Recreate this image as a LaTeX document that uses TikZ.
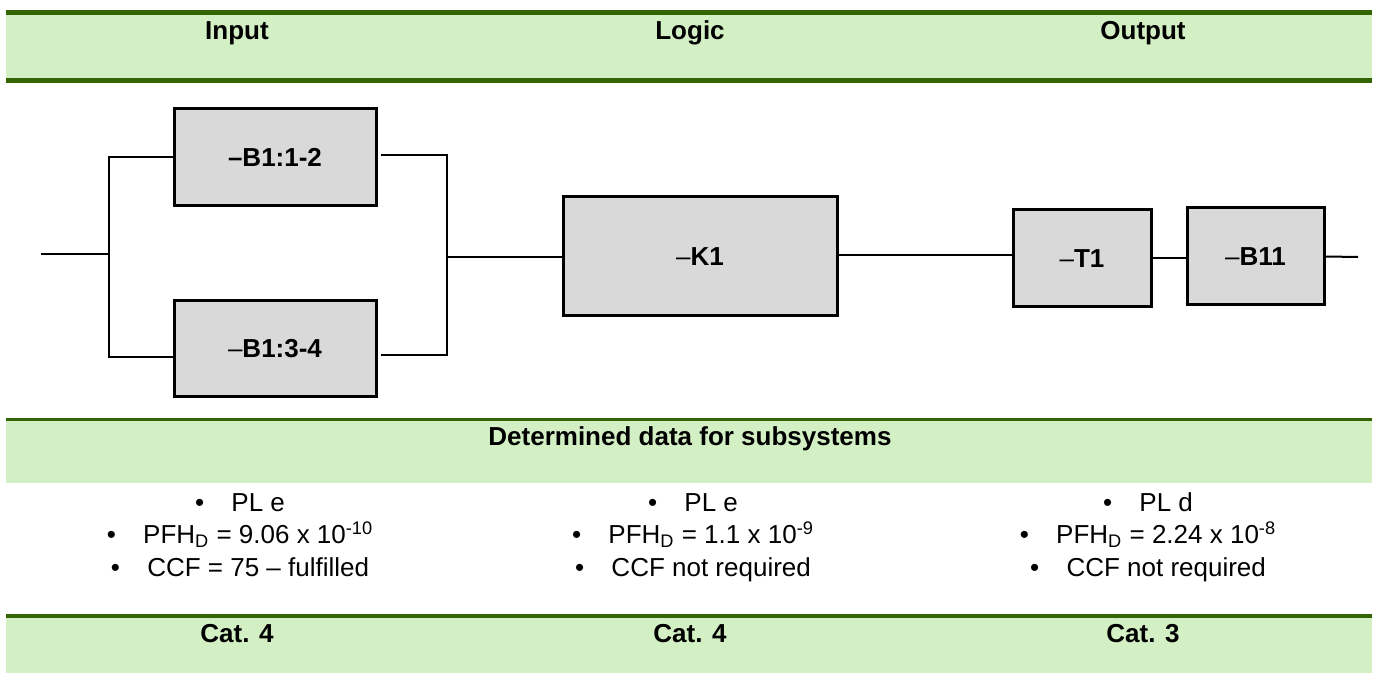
\documentclass[tikz,border=0pt]{standalone}
\usepackage{fontspec}
\setmainfont{Liberation Sans}
\definecolor{bandfill}{RGB}{211,240,197}
\definecolor{bandline}{RGB}{51,102,0}
\definecolor{boxfill}{RGB}{217,217,217}
\begin{document}
\begin{tikzpicture}[x=0.5pt,y=-0.5pt,
  hdr/.style={font=\fontsize{13}{15}\selectfont\bfseries, inner sep=0pt, anchor=base},
  bl/.style={font=\fontsize{13}{15}\selectfont, inner sep=0pt, anchor=base},
  blk/.style={draw=black, fill=boxfill, line width=1.5pt, inner sep=0pt, font=\fontsize{13}{15}\selectfont\bfseries},
  wire/.style={line width=1pt}
]
\useasboundingbox (0,0) rectangle (1376,673);
% bands
\fill[bandfill] (6,12) rectangle (1372,81);
\draw[bandline, line width=2.5pt] (6,12.5) -- (1372,12.5);
\draw[bandline, line width=2.5pt] (6,80.5) -- (1372,80.5);
\fill[bandfill] (6,419) rectangle (1372,483);
\draw[bandline, line width=1.6pt] (6,419.5) -- (1372,419.5);
\fill[bandfill] (6,616) rectangle (1372,673);
\draw[bandline, line width=2pt] (6,616) -- (1372,616);
% headers
\node[hdr] (hin) at (237,40) {Input};
\node[hdr] (hlog) at (690,40) {Logic};
\node[hdr] (hout) at (1143,40) {Output};
\node[hdr] (hdet) at (690,445) {Determined data for subsystems};
\node[hdr] (cat1) at (237,642) {Cat. 4};
\node[hdr] (cat2) at (690,642) {Cat. 4};
\node[hdr] (cat3) at (1143,642) {Cat. 3};
% blocks
\node[blk, minimum width=101pt, minimum height=48.5pt] (b12) at (275,157.5) {–B1:1-2};
\node[blk, minimum width=101pt, minimum height=48pt] (b34) at (275,349) {{\mdseries –}B1:3-4};
\node[blk, minimum width=137pt, minimum height=59.5pt] (k1) at (700,256.5) {{\mdseries –}K1};
\node[blk, minimum width=69pt, minimum height=48.5pt] (t1) at (1082,258.5) {{\mdseries –}T1};
\node[blk, minimum width=68.5pt, minimum height=48.5pt] (b11) at (1255.5,256.5) {{\mdseries –}B11};
% connectors
\coordinate (in) at (41,254);
\coordinate (jl) at (109,254);
\coordinate (jr) at (447,257);
\coordinate (out) at (1358,257);
\draw[wire] (in) -- (jl);
\draw[wire] (b12.west) -| (jl);
\draw[wire] ([yshift=-4pt]b34.west) -| (jl);
\draw[wire] ([yshift=1pt,xshift=1.5pt]b12.east) -| (jr);
\draw[wire] ([yshift=-3pt,xshift=1.5pt]b34.east) -| (jr);
\draw[wire] (jr) -- (jr -| k1.west);
\draw[wire] ([yshift=0.5pt]k1.east) -- ([yshift=0.5pt]k1.east -| t1.west);
\draw[wire] (t1.east) -- (t1.east -| b11.west);
\draw[wire] (b11.east) -- (out);
% subsystem data
\node[bl] (a1) at (240,511) {\textbullet\hspace{1.05em}PL e};
\node[bl] (a2) at (240,543.5) {\textbullet\hspace{1.05em}PFH\textsubscript{D} = 9.06 x 10\textsuperscript{-10}};
\node[bl] (a3) at (240,576) {\textbullet\hspace{1.05em}CCF = 75 – fulfilled};
\node[bl] (m1) at (693,511) {\textbullet\hspace{1.05em}PL e};
\node[bl] (m2) at (693,543.5) {\textbullet\hspace{1.05em}PFH\textsubscript{D} = 1.1 x 10\textsuperscript{-9}};
\node[bl] (m3) at (693,576) {\textbullet\hspace{1.05em}CCF not required};
\node[bl] (o1) at (1148,511) {\textbullet\hspace{1.05em}PL d};
\node[bl] (o2) at (1148,543.5) {\textbullet\hspace{1.05em}PFH\textsubscript{D} = 2.24 x 10\textsuperscript{-8}};
\node[bl] (o3) at (1148,576) {\textbullet\hspace{1.05em}CCF not required};
\end{tikzpicture}
\end{document}
